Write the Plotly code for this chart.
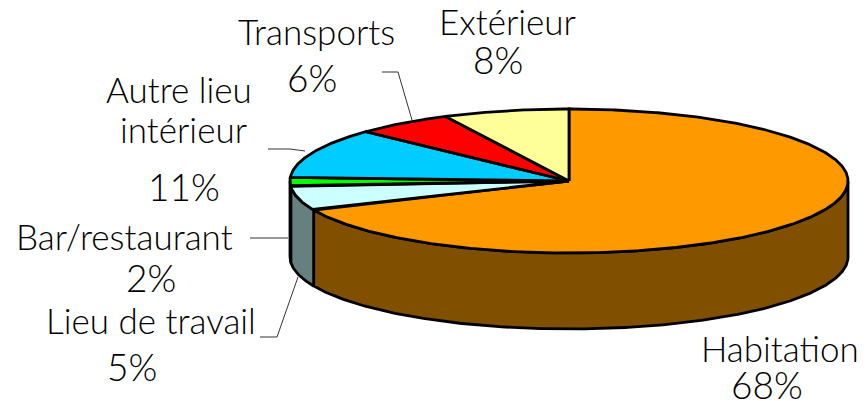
import numpy as np
import plotly.graph_objects as go

categories = ["Habitation", "Lieu de travail", "Bar/restaurant", "Autre lieu intérieur", "Transports", "Extérieur"]
printed_pct = [68, 5, 2, 11, 6, 8]
drawn_share = [68.4, 5.4, 2.0, 11.2, 5.7, 7.3]
top_colors = ["#FF9900", "#CCFFFF", "#00FF00", "#00CCFF", "#FF0000", "#FFFF99"]
wall_colors = ["#804F00", "#668080", "#008000", "#006680", "#800000", "#808050"]

CX, CY, RX, RY, DEPTH = 569, 181, 279, 72, 76
FONT = "Lato"
FS_NAME = 35
FS_PCT = 37

def rim(a0, a1, dy=0):
    t = np.radians(np.linspace(a0, a1, max(int(abs(a1 - a0) * 2), 2)))
    return CX + RX * np.sin(t), CY + dy - RY * np.cos(t)

fig = go.Figure()
edges = np.concatenate([[0], np.cumsum(drawn_share)]) * 3.6

for i in range(len(categories)):
    lo, hi = max(edges[i], 90), min(edges[i + 1], 270)
    if lo < hi:
        x1, y1 = rim(lo, hi)
        x2, y2 = rim(hi, lo, DEPTH)
        fig.add_trace(go.Scatter(x=np.r_[x1, x2, x1[0]], y=np.r_[y1, y2, y1[0]], mode="lines", fill="toself",
                                 fillcolor=wall_colors[i], line=dict(color="black", width=2.8), hoverinfo="skip"))

for i, name in enumerate(categories):
    x, y = rim(edges[i], edges[i + 1])
    fig.add_trace(go.Scatter(x=np.r_[CX, x, CX], y=np.r_[CY, y, CY], mode="lines", fill="toself", name=name,
                             fillcolor=top_colors[i], line=dict(color="black", width=2.8), hoverinfo="name"))

leaders = [
    ([382, 398, 412], [72, 72, 120]),
    ([268, 290, 305], [149, 149, 151]),
    ([250, 288], [238, 238]),
    ([260, 277, 298], [337, 337, 277]),
]
for lx, ly in leaders:
    fig.add_trace(go.Scatter(x=lx, y=ly, mode="lines", line=dict(color="#333333", width=1), hoverinfo="skip"))

texts = [
    ("Transports", 316, 31, FS_NAME), (f"{printed_pct[4]}%", 312, 77, FS_PCT),
    ("Extérieur", 507, 21, FS_NAME), (f"{printed_pct[5]}%", 498, 59, FS_PCT),
    ("Autre lieu", 179, 89, FS_NAME), ("intérieur", 183, 129, FS_NAME), (f"{printed_pct[3]}%", 184, 186, FS_PCT),
    ("Bar/restaurant", 124, 236, FS_NAME), (f"{printed_pct[2]}%", 151, 277, FS_PCT),
    ("Lieu de travail", 151, 320, FS_NAME), (f"{printed_pct[1]}%", 132, 366, FS_PCT),
    ("Habitation", 780, 348, FS_NAME), (f"{printed_pct[0]}%", 767, 384, FS_PCT),
]
for t, x, y, fs in texts:
    fig.add_annotation(x=x, y=y, text=t, showarrow=False, xanchor="center", yanchor="middle",
                       font=dict(family=FONT, size=fs, color="black", weight=300))

fig.update_layout(width=866, height=401, margin=dict(l=0, r=0, t=0, b=0), showlegend=False,
                  paper_bgcolor="white", plot_bgcolor="white",
                  xaxis=dict(range=[0, 866], visible=False, fixedrange=True),
                  yaxis=dict(range=[401, 0], visible=False, fixedrange=True))
fig.write_html("out.html", config={"displayModeBar": False},
               post_script="document.body.style.margin='0';document.documentElement.style.overflow='hidden';")
